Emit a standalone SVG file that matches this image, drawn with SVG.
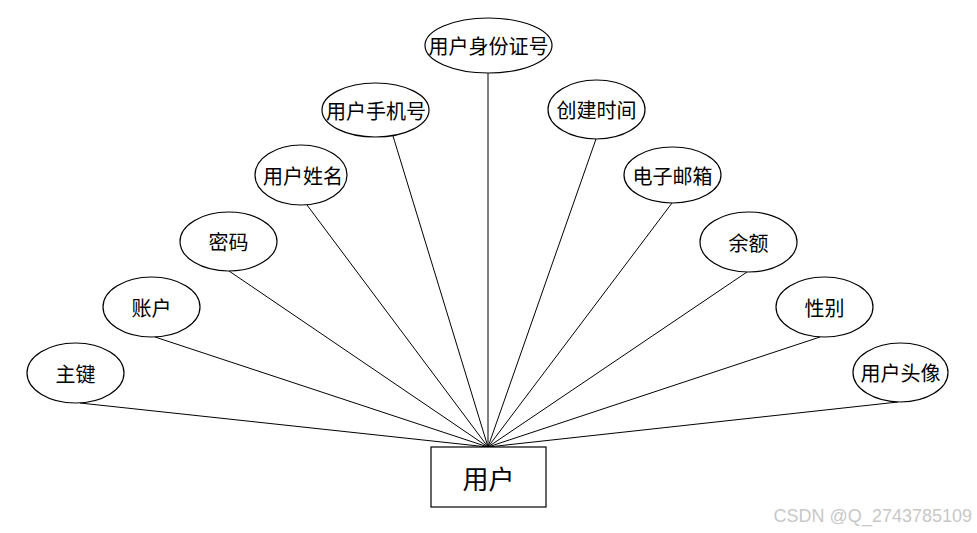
<svg xmlns="http://www.w3.org/2000/svg" width="977" height="533" viewBox="0 0 977 533">
<style>
.n ellipse{fill:#fff;stroke:#000;stroke-width:1.2}
.n rect{fill:#fff;stroke:#000;stroke-width:1.2}
.t{font-family:"Noto Sans CJK SC","Noto Sans",sans-serif;font-size:20px;fill:#000;text-anchor:middle;dominant-baseline:central}
.c line{stroke:#000;stroke-width:1}
</style>
<rect width="977" height="533" fill="#fff"/>
<g class="c">
<line x1="80" y1="403" x2="488" y2="447"/>
<line x1="155" y1="337" x2="488" y2="447"/>
<line x1="229" y1="271" x2="488" y2="447"/>
<line x1="307" y1="205" x2="488" y2="447"/>
<line x1="393" y1="136" x2="488" y2="447"/>
<line x1="488" y1="73" x2="488" y2="447"/>
<line x1="596" y1="139" x2="488" y2="447"/>
<line x1="672" y1="203" x2="488" y2="447"/>
<line x1="747" y1="272" x2="488" y2="447"/>
<line x1="820" y1="337" x2="488" y2="447"/>
<line x1="898" y1="402" x2="488" y2="447"/>
</g>
<g id="n-user" class="n"><rect x="431" y="447" width="115" height="60"/><text class="t" x="488.5" y="477" style="font-size:26px">用户</text></g>
<g id="n-pk" class="n"><ellipse cx="75.5" cy="373" rx="48.5" ry="30"/><text class="t" x="75.5" y="373">主键</text></g>
<g id="n-account" class="n"><ellipse cx="151.5" cy="307" rx="48.5" ry="30"/><text class="t" x="151.5" y="307">账户</text></g>
<g id="n-pwd" class="n"><ellipse cx="228.5" cy="241.5" rx="48.5" ry="29.5"/><text class="t" x="228.5" y="241.5">密码</text></g>
<g id="n-name" class="n"><ellipse cx="301" cy="175" rx="46" ry="30"/><text class="t" x="303" y="175">用户姓名</text></g>
<g id="n-phone" class="n"><ellipse cx="375.5" cy="110" rx="53.5" ry="27"/><text class="t" x="376" y="110">用户手机号</text></g>
<g id="n-idcard" class="n"><ellipse cx="488.5" cy="45.5" rx="63.5" ry="27.5"/><text class="t" x="488.5" y="45.5">用户身份证号</text></g>
<g id="n-ctime" class="n"><ellipse cx="596.5" cy="109.5" rx="48.5" ry="29.5"/><text class="t" x="596.5" y="109.5">创建时间</text></g>
<g id="n-email" class="n"><ellipse cx="672.5" cy="175" rx="48.5" ry="28"/><text class="t" x="672.5" y="175">电子邮箱</text></g>
<g id="n-balance" class="n"><ellipse cx="748.5" cy="242" rx="48.5" ry="30"/><text class="t" x="748.5" y="242">余额</text></g>
<g id="n-gender" class="n"><ellipse cx="824.5" cy="307" rx="48.5" ry="30"/><text class="t" x="824.5" y="307">性别</text></g>
<g id="n-avatar" class="n"><ellipse cx="900.5" cy="372.5" rx="47.5" ry="29.5"/><text class="t" x="900.5" y="372.5">用户头像</text></g>
<text x="972" y="522" style="font-family:'Liberation Sans',Arial,sans-serif;font-size:18px;fill:#c8c8c8;text-anchor:end">CSDN @Q_2743785109</text>
</svg>
